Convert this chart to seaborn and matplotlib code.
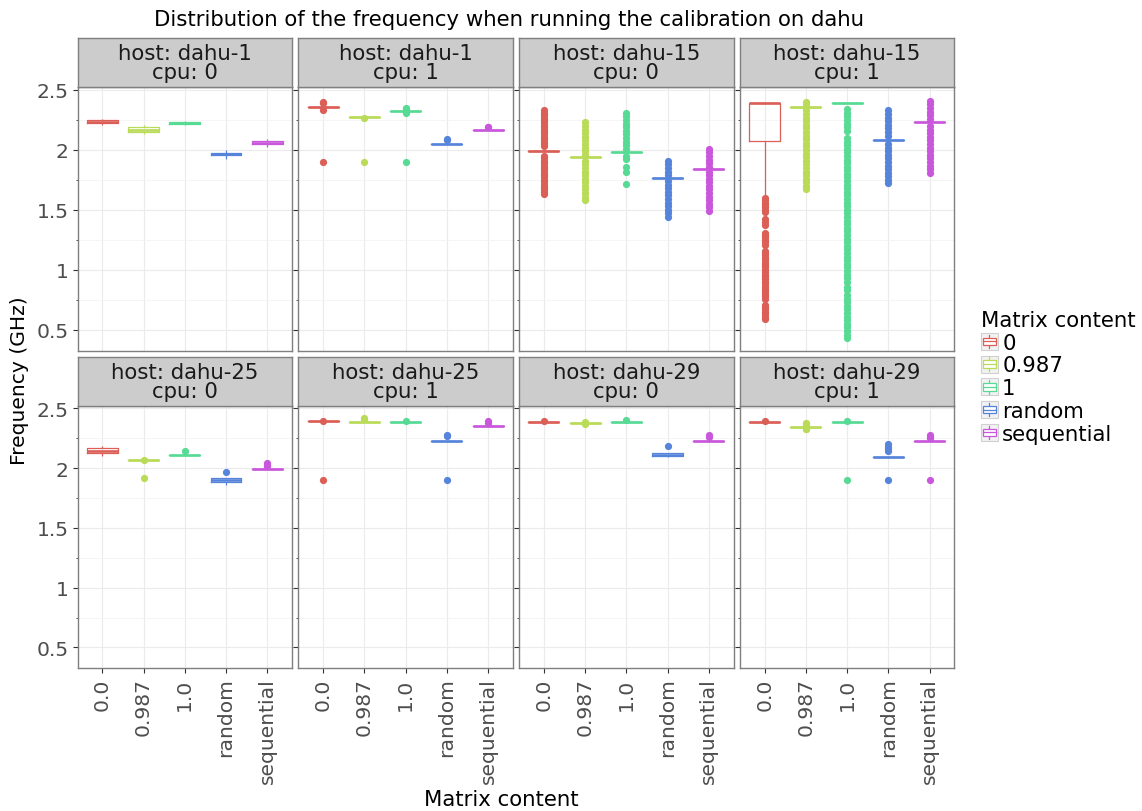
import numpy as np
import pandas as pd
import matplotlib
matplotlib.use('Agg')
import matplotlib.pyplot as plt
import seaborn as sns
from matplotlib.patches import Rectangle, Patch
from matplotlib.lines import Line2D
from matplotlib.legend_handler import HandlerBase
from matplotlib.ticker import MultipleLocator, FuncFormatter, NullLocator

categories = ["0.0", "0.987", "1.0", "random", "sequential"]
legend_labels = ["0", "0.987", "1", "random", "sequential"]
colors = ["#DB5F57", "#B9DB57", "#57DB94", "#5784DB", "#C957DB"]

panel_hosts = ["dahu-1", "dahu-1", "dahu-15", "dahu-15", "dahu-25", "dahu-25", "dahu-29", "dahu-29"]
panel_cpus = [0, 1, 0, 1, 0, 1, 0, 1]

# per matrix content: (frequency levels, samples on each level, isolated readings)
dahu1_cpu0 = [
    ([2.21, 2.226, 2.236, 2.246, 2.262], [1, 300, 300, 300, 1], []),
    ([2.137, 2.152, 2.17, 2.188, 2.205], [1, 300, 300, 300, 1], []),
    ([2.205, 2.214, 2.225, 2.236, 2.245], [1, 300, 300, 300, 1], []),
    ([1.927, 1.955, 1.965, 1.975, 2.0], [1, 300, 300, 300, 1], []),
    ([2.025, 2.05, 2.061, 2.072, 2.09], [1, 300, 300, 300, 1], []),
]
dahu1_cpu1 = [
    ([2.355], [300], [2.397, 2.39, 2.336, 1.897]),
    ([2.276], [300], [2.264, 1.897]),
    ([2.328], [300], [2.35, 2.345, 2.315, 2.31, 1.897]),
    ([2.047], [300], [2.092, 2.085]),
    ([2.167], [300], [2.194, 2.19]),
]
dahu15_cpu0 = [
    ([1.989], [300], [2.33, 2.31, 2.29, 2.27, 2.25, 2.23, 2.21, 2.19, 2.17, 2.15, 2.13, 2.11,
                      2.09, 2.07, 2.05, 2.03, 1.95, 1.93, 1.91, 1.89, 1.87, 1.85, 1.83, 1.81,
                      1.79, 1.77, 1.75, 1.73, 1.71, 1.69, 1.67, 1.65, 1.635]),
    ([1.939], [300], [2.23, 2.20, 2.17, 2.14, 2.11, 2.08, 2.05, 2.02, 1.99, 1.96, 1.91, 1.88,
                      1.85, 1.82, 1.79, 1.76, 1.73, 1.70, 1.67, 1.64, 1.61, 1.58]),
    ([1.98], [300], [2.31, 2.28, 2.25, 2.22, 2.19, 2.16, 2.13, 2.10, 2.07, 2.04, 2.01, 1.95,
                     1.925, 1.856, 1.82, 1.717]),
    ([1.764], [300], [1.91, 1.88, 1.85, 1.82, 1.79, 1.74, 1.71, 1.68, 1.65, 1.62, 1.59, 1.56,
                      1.53, 1.50, 1.47, 1.44]),
    ([1.842], [300], [2.01, 1.98, 1.95, 1.92, 1.89, 1.86, 1.82, 1.79, 1.76, 1.73, 1.70, 1.67,
                      1.64, 1.61, 1.58, 1.55, 1.52, 1.49]),
]
dahu15_cpu1 = [
    ([1.62, 2.078, 2.395, 2.40], [1, 300, 600, 1],
     [1.595, 1.58, 1.56, 1.54, 1.52, 1.50, 1.48, 1.42, 1.40, 1.37, 1.31, 1.29, 1.27, 1.25,
      1.23, 1.21, 1.16, 1.14, 1.12, 1.10, 1.08, 1.06, 1.04, 1.02, 1.00, 0.98, 0.96, 0.94,
      0.92, 0.90, 0.88, 0.86, 0.84, 0.82, 0.80, 0.78, 0.76, 0.71, 0.69, 0.67, 0.65, 0.63,
      0.61, 0.59]),
    ([2.355], [400], [2.40, 2.38, 2.33, 2.30, 2.27, 2.24, 2.21, 2.18, 2.15, 2.12, 2.09, 2.06,
                      2.03, 2.00, 1.97, 1.94, 1.91, 1.88, 1.85, 1.82, 1.79, 1.76, 1.73, 1.70,
                      1.67]),
    ([2.395], [400], [2.34, 2.31, 2.28, 2.25, 2.22, 2.19, 2.16, 2.10, 2.07, 2.04, 2.01, 1.98,
                      1.95, 1.92, 1.89, 1.86, 1.83, 1.80, 1.77, 1.74, 1.71, 1.68, 1.65, 1.62,
                      1.59, 1.56, 1.53, 1.50, 1.47, 1.44, 1.41, 1.38, 1.35, 1.32, 1.29, 1.26,
                      1.23, 1.20, 1.17, 1.14, 1.11, 1.08, 1.05, 1.02, 0.99, 0.96, 0.93, 0.90,
                      0.86, 0.83, 0.79, 0.76, 0.73, 0.70, 0.67, 0.64, 0.61, 0.58, 0.55, 0.52,
                      0.49, 0.46, 0.43]),
    ([2.083], [300], [2.33, 2.30, 2.27, 2.24, 2.21, 2.18, 2.15, 2.12, 2.05, 2.02, 1.99, 1.96,
                      1.93, 1.90, 1.87, 1.84, 1.81, 1.78, 1.75, 1.72]),
    ([2.23], [300], [2.41, 2.38, 2.35, 2.32, 2.29, 2.26, 2.20, 2.17, 2.14, 2.11, 2.08, 2.05,
                     2.02, 1.99, 1.96, 1.93, 1.90, 1.87, 1.84, 1.81]),
]
dahu25_cpu0 = [
    ([2.103, 2.126, 2.144, 2.168, 2.186], [1, 300, 300, 300, 1], []),
    ([2.064], [300], [2.072, 1.914]),
    ([2.111], [300], [2.144]),
    ([1.858, 1.888, 1.903, 1.917], [1, 300, 300, 300], [1.968]),
    ([1.992], [300], [2.04, 2.025, 2.015]),
]
dahu25_cpu1 = [
    ([2.394], [300], [2.398, 1.897]),
    ([2.39], [300], [2.42, 2.41]),
    ([2.39], [300], [2.393]),
    ([2.228], [300], [2.275, 2.265, 1.897]),
    ([2.353], [300], [2.392, 2.38]),
]
dahu29_cpu0 = [
    ([2.39], [300], [2.394]),
    ([2.38], [300], [2.386, 2.372]),
    ([2.39], [300], [2.40]),
    ([2.095, 2.105, 2.114, 2.125, 2.13], [1, 300, 300, 300, 1], [2.183]),
    ([2.228], [300], [2.275, 2.26]),
]
dahu29_cpu1 = [
    ([2.39], [300], [2.394]),
    ([2.347], [300], [2.38, 2.37, 2.36, 2.33, 2.325]),
    ([2.39], [300], [2.394, 1.897]),
    ([2.097], [300], [2.20, 2.18, 2.16, 2.14, 1.897]),
    ([2.225], [300], [2.28, 2.26, 2.25, 1.897]),
]
panels = [dahu1_cpu0, dahu1_cpu1, dahu15_cpu0, dahu15_cpu1,
          dahu25_cpu0, dahu25_cpu1, dahu29_cpu0, dahu29_cpu1]


def panel_frame(groups):
    rows = []
    for cat, (levels, counts, outliers) in zip(categories, groups):
        vals = list(np.repeat(levels, counts)) + list(outliers)
        rows += [(cat, v) for v in vals]
    return pd.DataFrame(rows, columns=['content', 'freq'])


class BoxKey(HandlerBase):
    def create_artists(self, legend, orig_handle, xdescent, ydescent, width, height, fontsize, trans):
        c = orig_handle.get_edgecolor()
        x0, y0 = -xdescent, -ydescent
        bg = Rectangle((x0, y0), width, height, fc='#F2F2F2', ec='#D0D0D0', lw=0.8, transform=trans)
        cx = x0 + width / 2
        whisk = Line2D([cx, cx], [y0 + height * 0.1, y0 + height * 0.9], color=c, lw=0.9, transform=trans)
        box = Rectangle((x0 + width * 0.1, y0 + height * 0.28), width * 0.8, height * 0.44,
                        fc='white', ec=c, lw=0.9, transform=trans)
        med = Line2D([x0 + width * 0.1, x0 + width * 0.9], [y0 + height / 2] * 2, color=c, lw=0.9,
                     transform=trans)
        return [bg, whisk, box, med]


W, H = 1142, 812
FS = 15.3
TFS = 14.6
fig = plt.figure(figsize=(W / 100, H / 100), dpi=100)
fig.patch.set_facecolor('white')

col_left = [77.5, 298.3, 519.1, 739.9]
col_w = 214.5
rows_px = [(39.3, 88.3, 351.7), (358.0, 406.7, 669.3)]
border = '#7F7F7F'

for i, groups in enumerate(panels):
    r, c = divmod(i, 4)
    st, top, bot = rows_px[r]
    left = col_left[c]
    ax = fig.add_axes([left / W, 1 - bot / H, col_w / W, (bot - top) / H])
    sax = fig.add_axes([left / W, 1 - top / H, col_w / W, (top - st) / H])

    df = panel_frame(groups)
    sns.boxplot(data=df, x='content', y='freq', hue='content', order=categories,
                hue_order=categories, palette=colors, fill=False, width=0.75, whis=1.5,
                showcaps=False, linewidth=0.9, fliersize=5.2,
                flierprops=dict(marker='o', markeredgewidth=0.0),
                medianprops=dict(linewidth=1.9), legend=False, ax=ax)
    for ln in ax.lines:
        if ln.get_marker() not in (None, 'None', '') and ln.get_linestyle() in ('None', ''):
            ln.set_markerfacecolor(ln.get_markeredgecolor())

    ax.set_xlim(-0.6, 4.6)
    ax.set_ylim(0.325, 2.5225)
    ax.yaxis.set_major_locator(MultipleLocator(0.5))
    ax.yaxis.set_minor_locator(MultipleLocator(0.25))
    ax.yaxis.set_major_formatter(FuncFormatter(lambda v, p: f"{v:g}"))
    ax.xaxis.set_minor_locator(NullLocator())
    ax.set_xlabel('')
    ax.set_ylabel('')
    ax.set_axisbelow(True)
    ax.grid(True, which='major', color='#EBEBEB', lw=0.8)
    ax.grid(True, which='minor', axis='y', color='#F2F2F2', lw=0.5)
    for sp in ax.spines.values():
        sp.set_color(border)
        sp.set_linewidth(1.0)
    ax.tick_params(axis='both', which='major', length=3.5, width=0.8, color='#333333',
                   labelsize=TFS, labelcolor='#4D4D4D', pad=3)
    ax.tick_params(axis='y', which='minor', length=1.8, width=0.6, color='#333333')
    ax.tick_params(axis='x', labelrotation=90)
    if c > 0:
        ax.tick_params(axis='y', labelleft=False)
    if r == 0:
        ax.tick_params(axis='x', length=0, labelbottom=False)

    sax.set_facecolor('#CCCCCC')
    sax.set_xticks([])
    sax.set_yticks([])
    for sp in sax.spines.values():
        sp.set_color(border)
        sp.set_linewidth(1.0)
    sax.text(0.5, 0.5, f"host: {panel_hosts[i]}\ncpu: {panel_cpus[i]}", ha='center', va='center',
             fontsize=FS, color='#1A1A1A', linespacing=0.95, transform=sax.transAxes)

fig.text(508.5 / W, 1 - 20 / H, "Distribution of the frequency when running the calibration on dahu",
         ha='center', va='center', fontsize=FS)
fig.text(501.5 / W, 1 - 800 / H, "Matrix content", ha='center', va='center', fontsize=FS)
fig.text(20 / W, 1 - 381 / H, "Frequency (GHz)", ha='center', va='center', rotation=90, fontsize=14.6)

handles = [Patch(facecolor='white', edgecolor=col) for col in colors]
leg = fig.legend(handles, legend_labels, title="Matrix content", loc='upper left',
                 bbox_to_anchor=(966 / W, 1 - 296 / H), frameon=False, fontsize=FS,
                 title_fontsize=FS, handler_map={Patch: BoxKey()}, handlelength=0.8,
                 handleheight=0.85, labelspacing=0.13, handletextpad=0.2, borderpad=0.2,
                 alignment='left')

fig.savefig('out.png', dpi=100)
